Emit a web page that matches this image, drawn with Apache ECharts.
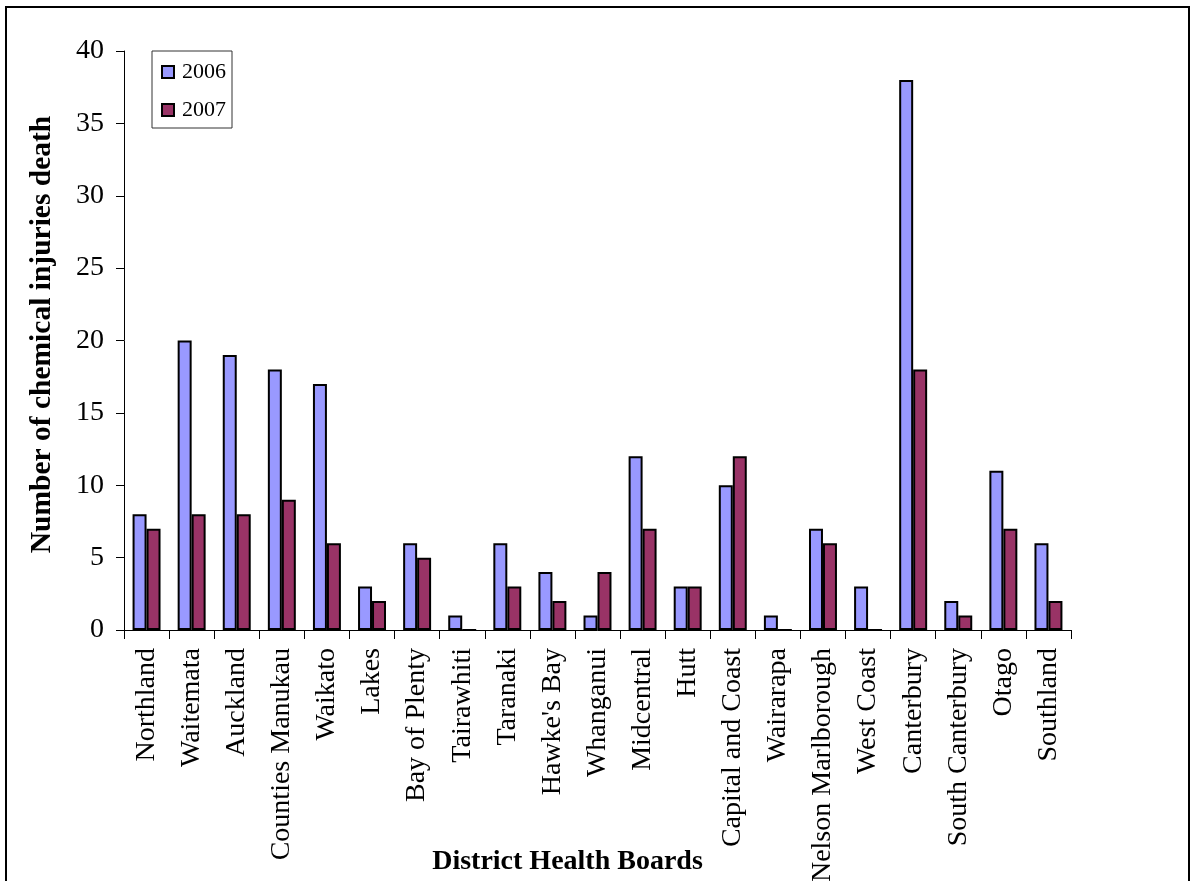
<!DOCTYPE html>
<html>
<head>
<meta charset="utf-8">
<script src="https://cdn.jsdelivr.net/npm/echarts@6/dist/echarts.min.js"></script>
<style>
  html, body { margin: 0; padding: 0; background: #ffffff; }
  #chart { width: 1192px; height: 881px; }
</style>
</head>
<body>
<div id="chart"></div>
<script>
const categories = ["Northland", "Waitemata", "Auckland", "Counties Manukau", "Waikato", "Lakes", "Bay of Plenty", "Tairawhiti", "Taranaki", "Hawke's Bay", "Whanganui", "Midcentral", "Hutt", "Capital and Coast", "Wairarapa", "Nelson Marlborough", "West Coast", "Canterbury", "South Canterbury", "Otago", "Southland"];
const values2006 = [8, 20, 19, 18, 17, 3, 6, 1, 6, 4, 1, 12, 3, 10, 1, 7, 3, 38, 2, 11, 6];
const values2007 = [7, 8, 8, 9, 6, 2, 5, 0, 3, 2, 4, 7, 3, 12, 0, 6, 0, 18, 1, 7, 2];
const seriesNames = ["2006", "2007"];
const yTicks = { min: 0, max: 40, interval: 5 };

const FONT = "'Liberation Serif', 'Times New Roman', serif";
const chart = echarts.init(document.getElementById('chart'), null, { renderer: 'canvas' });

const option = {
  animation: false,
  backgroundColor: '#ffffff',
  graphic: [{
    type: 'rect',
    shape: { x: 6, y: 7, width: 1183, height: 900 },
    style: { fill: 'none', stroke: '#000', lineWidth: 2 },
    z: 100
  }],
  grid: { left: 124, right: 121, top: 51, bottom: 251, containLabel: false, outerBoundsMode: 'none' },
  legend: {
    orient: 'vertical',
    left: 152,
    top: 51,
    data: seriesNames,
    itemWidth: 12,
    itemHeight: 12,
    itemGap: 16,
    padding: [10, 6, 7, 9],
    borderColor: '#333',
    borderWidth: 1,
    backgroundColor: '#fff',
    icon: 'rect',
    textStyle: { fontFamily: FONT, fontSize: 22, color: '#000', padding: [0, 0, 0, 3] }
  },
  xAxis: {
    type: 'category',
    data: categories,
    name: 'District Health Boards',
    nameLocation: 'middle',
    nameGap: 218,
    nameMoveOverlap: false,
    nameTextStyle: { fontFamily: FONT, fontSize: 28, fontWeight: 'bold', color: '#000', padding: [0, 60, 0, 0] },
    axisLine: { show: true, lineStyle: { color: '#000', width: 1 } },
    axisTick: { show: true, interval: 0, length: 9, lineStyle: { color: '#000' } },
    axisLabel: { interval: 0, rotate: 90, margin: 18, fontFamily: FONT, fontSize: 28, color: '#000' },
    splitLine: { show: false }
  },
  yAxis: {
    type: 'value',
    min: yTicks.min,
    max: yTicks.max,
    interval: yTicks.interval,
    name: 'Number of chemical injuries deaths',
    nameLocation: 'middle',
    nameGap: 67,
    nameMoveOverlap: false,
    nameTruncate: { maxWidth: 444, ellipsis: '' },
    nameTextStyle: { fontFamily: FONT, fontSize: 29.5, fontWeight: 'bold', color: '#000', padding: [0, 0, 0, 12] },
    axisLine: { show: true, lineStyle: { color: '#000', width: 1 } },
    axisTick: { show: true, length: 8, lineStyle: { color: '#000' } },
    axisLabel: { margin: 20, fontFamily: FONT, fontSize: 28, color: '#000' },
    splitLine: { show: false }
  },
  series: [
    {
      name: seriesNames[0],
      type: 'bar',
      data: values2006,
      barGap: '0%',
      barCategoryGap: '38%',
      itemStyle: { color: '#9999FF', borderColor: '#000', borderWidth: 2 }
    },
    {
      name: seriesNames[1],
      type: 'bar',
      data: values2007,
      itemStyle: { color: '#993366', borderColor: '#000', borderWidth: 2 }
    }
  ]
};
chart.setOption(option);
</script>
</body>
</html>
